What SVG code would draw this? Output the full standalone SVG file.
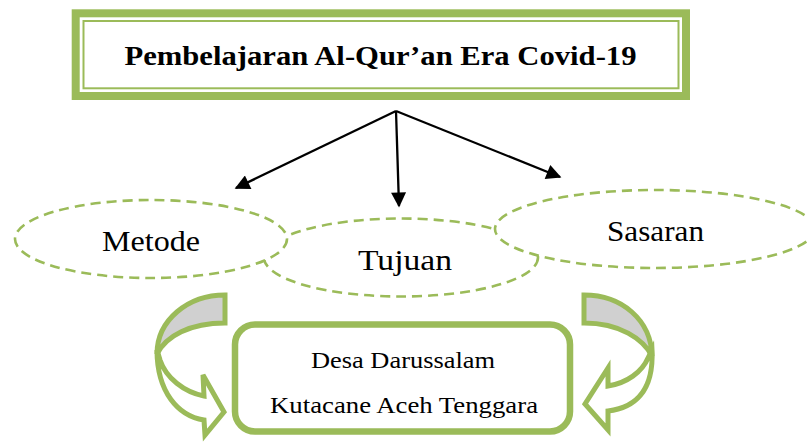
<svg xmlns="http://www.w3.org/2000/svg" width="808" height="443" viewBox="0 0 808 443">
<style>
.ell{fill:#ffffff;stroke:#9BBB59;stroke-width:2.6;stroke-dasharray:10 6}
.lbl{font-family:"Liberation Serif","Times New Roman",serif;fill:#000;text-anchor:middle}
.conn{stroke:#000;stroke-width:2.3;fill:none}
.band{stroke:#9BBB59;stroke-width:5;stroke-linejoin:miter}
</style>
<defs>
<marker id="ah" viewBox="0 0 10 10" refX="9" refY="5" markerWidth="16" markerHeight="15" markerUnits="userSpaceOnUse" orient="auto">
<path d="M0,0 L10,5 L0,10 z" fill="#000"/>
</marker>
</defs>
<rect width="808" height="443" fill="#ffffff"/>

<g id="title">
<rect x="75.7" y="13.3" width="610.3" height="82.7" fill="#ffffff" stroke="#9BBB59" stroke-width="8"/>
<rect x="83.5" y="21" width="595" height="67.3" fill="none" stroke="#9BBB59" stroke-width="2"/>
<text class="lbl" x="380.5" y="65" font-size="27" font-weight="bold" textLength="512" lengthAdjust="spacingAndGlyphs">Pembelajaran Al-Qur’an Era Covid-19</text>
</g>

<g id="tujuan">
<ellipse class="ell" cx="401" cy="257.5" rx="137" ry="39"/>
<text class="lbl" x="405" y="270" font-size="29" textLength="94" lengthAdjust="spacingAndGlyphs">Tujuan</text>
</g>
<g id="metode">
<ellipse class="ell" cx="151" cy="239" rx="136" ry="39"/>
<text class="lbl" x="151" y="251" font-size="29" textLength="98" lengthAdjust="spacingAndGlyphs">Metode</text>
</g>
<g id="sasaran">
<ellipse class="ell" cx="655" cy="229" rx="160" ry="39"/>
<text class="lbl" x="655.5" y="240.7" font-size="29" textLength="97" lengthAdjust="spacingAndGlyphs">Sasaran</text>
</g>

<g id="lokasi">
<rect x="235" y="324.5" width="335" height="107" rx="20" ry="20" fill="#ffffff" stroke="#9BBB59" stroke-width="6.5"/>
<text class="lbl" x="403" y="367.7" font-size="24" textLength="184" lengthAdjust="spacingAndGlyphs">Desa Darussalam</text>
<text class="lbl" x="404" y="413.3" font-size="24" textLength="268" lengthAdjust="spacingAndGlyphs">Kutacane Aceh Tenggara</text>
</g>

<g id="connectors">
<line class="conn" x1="396" y1="111" x2="236" y2="188" marker-end="url(#ah)"/>
<line class="conn" x1="396" y1="111" x2="399" y2="206" marker-end="url(#ah)"/>
<line class="conn" x1="396" y1="111" x2="560" y2="177" marker-end="url(#ah)"/>

<g id="curved-left">
<path class="band" fill="#D0D0D0" d="M225,295 C188,295 157,320 157,354 C166,336 190,323 225,323 Z"/>
<path class="band" fill="#ffffff" d="M157,350 C157,392 178,416 204,420 L205,435 L224,412 L203,375 L204,396 C184,392 166,378 160,360 Z"/>
</g>
<g id="curved-right">
<path class="band" fill="#D0D0D0" d="M584,295 C622,295 651,320 652,356 C643,339 620,323 584,323 Z"/>
<path class="band" fill="#ffffff" d="M652,350 C654,392 634,408 608,411 L608,430 L585,404 L608,368 L608,386 C627,383 642,372 648,358 Z"/>
</g>
</g>
</svg>
